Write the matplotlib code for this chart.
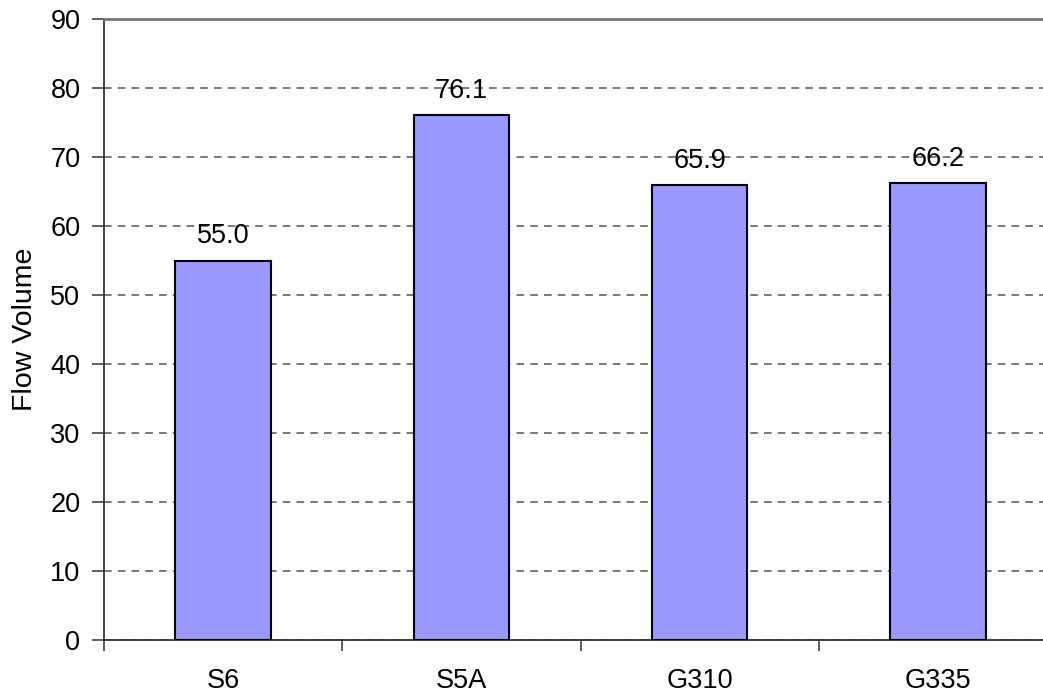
import matplotlib.pyplot as plt
import numpy as np

plt.rcParams['font.family'] = ['Liberation Sans', 'DejaVu Sans']

# site names and measured flow volumes
sites = ['S6', 'S5A', 'G310', 'G335']
flow = [55.0, 76.1, 65.9, 66.2]

fig = plt.figure(figsize=(10.43, 6.96), dpi=100)
# axis runs a little past the right edge of the canvas
ax = fig.add_axes([104 / 1043, 56 / 696, 953 / 1043, 621 / 696])

x = np.arange(len(sites))
ax.bar(x, flow, width=0.40, color='#9999FF', edgecolor='black', linewidth=1.5, zorder=3)

for xi, v in zip(x, flow):
    ax.text(xi, v + 2.5, f'{v:.1f}', ha='center', va='baseline', fontsize=19.5, zorder=4)

ax.set_xlim(-0.5, len(sites) - 0.5)
ax.set_ylim(0, 90)
ax.set_yticks(np.arange(0, 91, 10))
ax.yaxis.grid(True, linestyle=(0, (5, 4)), color='#555555', linewidth=1.1, zorder=1)

# category boundaries get the tick marks, names sit between them
ax.set_xticks(np.arange(-0.5, len(sites), 1.0))
ax.set_xticklabels([])
ax.set_xticks(x, minor=True)
ax.set_xticklabels(sites, minor=True)
ax.tick_params(axis='x', which='major', length=8, width=1.1, color='#333333')
ax.tick_params(axis='x', which='minor', length=0, pad=20, labelsize=19.5)
ax.tick_params(axis='y', length=9, width=1.1, color='#333333', labelsize=19.5, pad=8)

for s in ['left', 'bottom']:
    ax.spines[s].set_color('#333333')
    ax.spines[s].set_linewidth(1.3)
ax.spines['top'].set_color('#777777')
ax.spines['top'].set_linewidth(2)
ax.spines['right'].set_visible(False)

ax.set_ylabel('Flow Volume', fontsize=20.5, labelpad=9)

fig.savefig('out.png', dpi=100)
